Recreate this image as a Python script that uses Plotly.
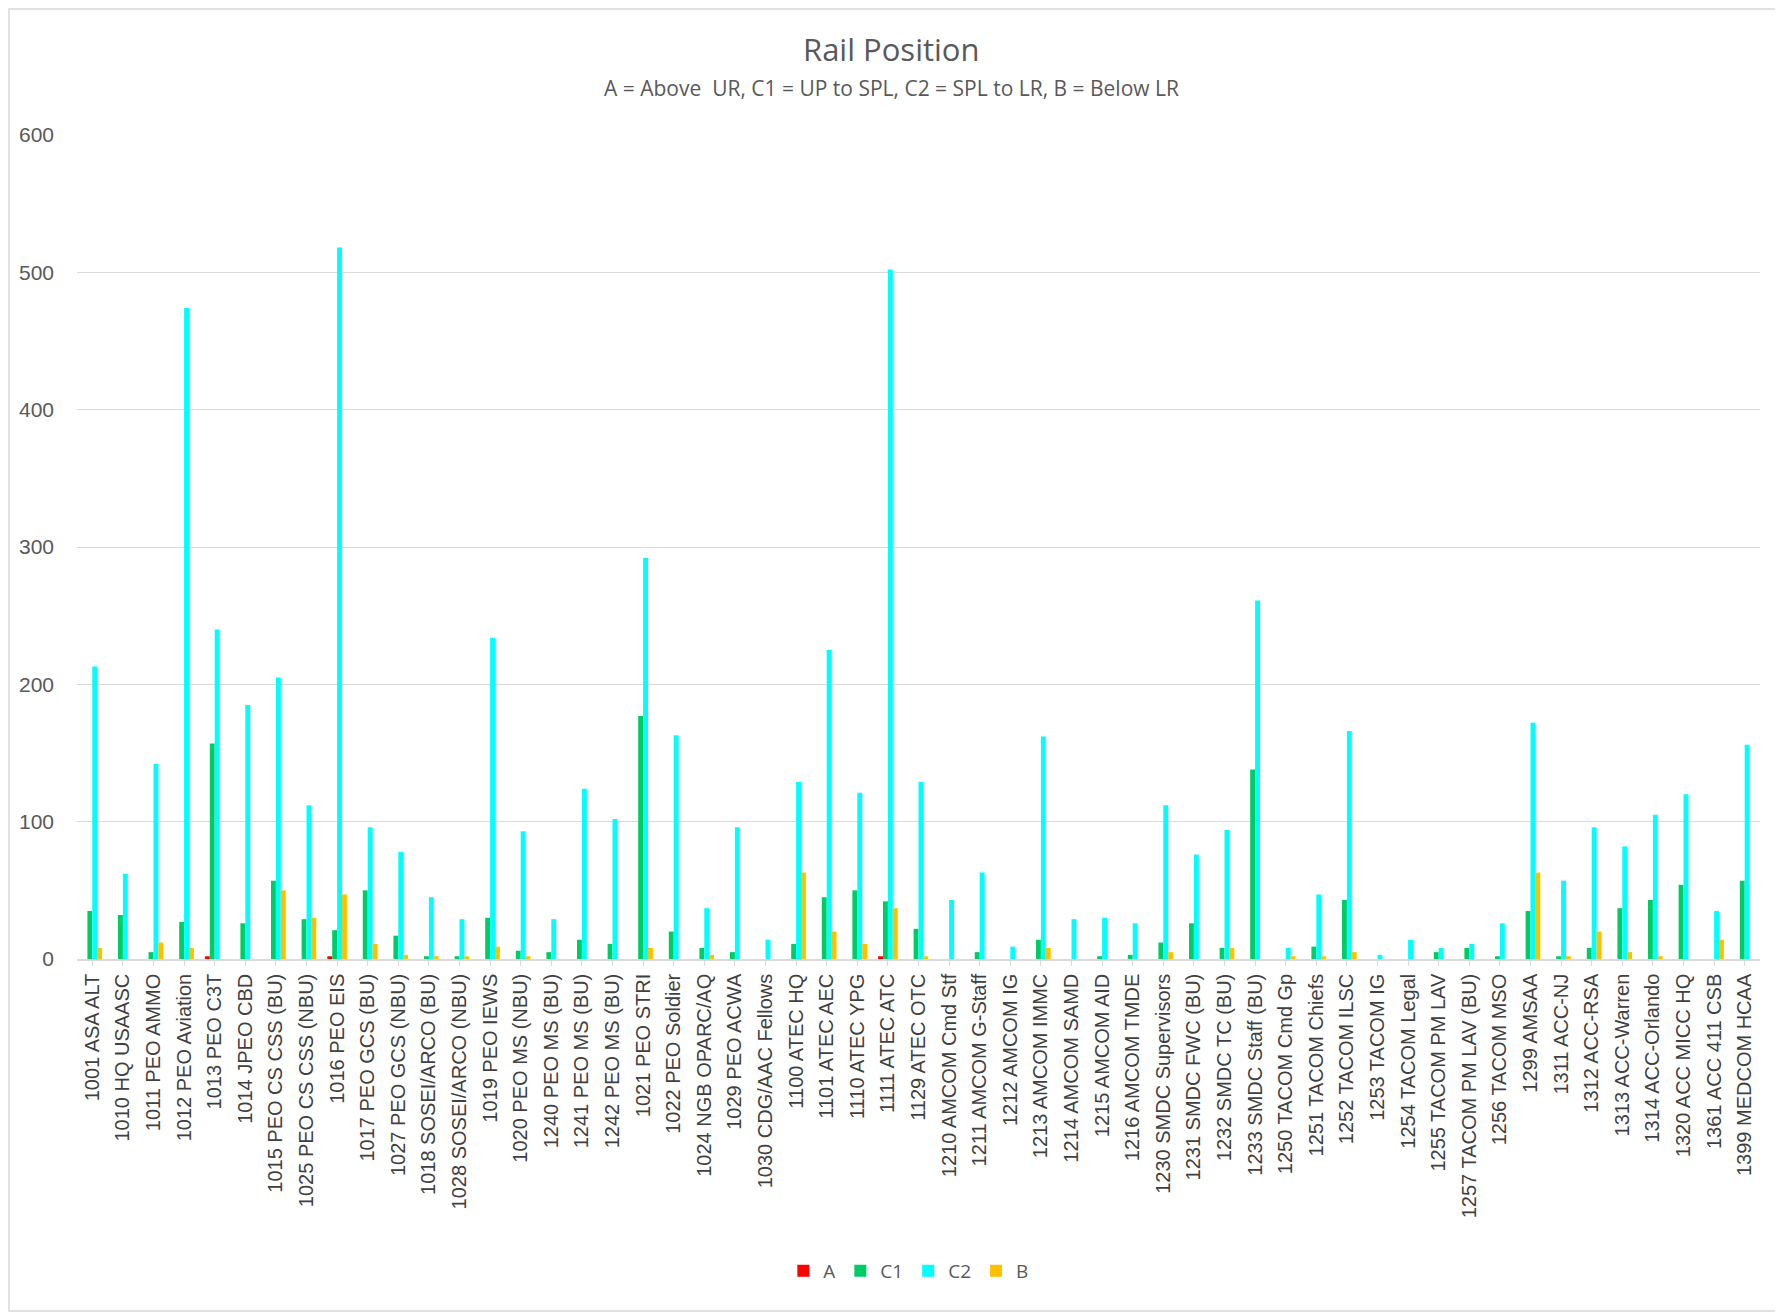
import plotly.graph_objects as go

categories = [
    "1001 ASA ALT", "1010 HQ USAASC", "1011 PEO AMMO", "1012 PEO Aviation", "1013 PEO C3T",
    "1014 JPEO CBD", "1015 PEO CS CSS (BU)", "1025 PEO CS CSS (NBU)", "1016 PEO EIS",
    "1017 PEO GCS (BU)", "1027 PEO GCS (NBU)", "1018 SOSEI/ARCO (BU)", "1028 SOSEI/ARCO (NBU)",
    "1019 PEO IEWS", "1020 PEO MS (NBU)", "1240 PEO MS (BU)", "1241 PEO MS (BU)",
    "1242 PEO MS (BU)", "1021 PEO STRI", "1022 PEO Soldier", "1024 NGB OPARC/AQ",
    "1029 PEO ACWA", "1030 CDG/AAC Fellows", "1100 ATEC HQ", "1101 ATEC AEC", "1110 ATEC YPG",
    "1111 ATEC ATC", "1129 ATEC OTC", "1210 AMCOM Cmd Stf", "1211 AMCOM G-Staff",
    "1212 AMCOM IG", "1213 AMCOM IMMC", "1214 AMCOM SAMD", "1215 AMCOM AID",
    "1216 AMCOM TMDE", "1230 SMDC Supervisors", "1231 SMDC FWC (BU)", "1232 SMDC TC (BU)",
    "1233 SMDC Staff (BU)", "1250 TACOM Cmd Gp", "1251 TACOM Chiefs", "1252 TACOM ILSC",
    "1253 TACOM IG", "1254 TACOM Legal", "1255 TACOM PM LAV", "1257 TACOM PM LAV (BU)",
    "1256 TACOM MSO", "1299 AMSAA", "1311 ACC-NJ", "1312 ACC-RSA", "1313 ACC-Warren",
    "1314 ACC-Orlando", "1320 ACC MICC HQ", "1361 ACC 411 CSB", "1399 MEDCOM HCAA",
]

A = [0, 0, 0, 0, 2, 0, 0, 0, 2, 0, 0, 0, 0, 0, 0, 0, 0, 0, 0, 0, 0, 0, 0, 0, 0, 0, 2, 0,
     0, 0, 0, 0, 0, 0, 0, 0, 0, 0, 0, 0, 0, 0, 0, 0, 0, 0, 0, 0, 0, 0, 0, 0, 0, 0, 0]
C1 = [35, 32, 5, 27, 157, 26, 57, 29, 21, 50, 17, 2, 2, 30, 6, 5, 14, 11, 177, 20, 8,
      5, 0, 11, 45, 50, 42, 22, 0, 5, 0, 14, 0, 2, 3, 12, 26, 8, 138, 0, 9, 43,
      0, 0, 5, 8, 2, 35, 2, 8, 37, 43, 54, 0, 57]
C2 = [213, 62, 142, 474, 240, 185, 205, 112, 518, 96, 78, 45, 29, 234, 93, 29, 124,
      102, 292, 163, 37, 96, 14, 129, 225, 121, 502, 129, 43, 63, 9, 162, 29, 30, 26,
      112, 76, 94, 261, 8, 47, 166, 3, 14, 8, 11, 26, 172, 57, 96, 82, 105, 120, 35, 156]
B = [8, 0, 12, 8, 0, 0, 50, 30, 47, 11, 3, 2, 2, 9, 2, 0, 0, 0, 8, 0, 3, 0, 0, 63, 20,
     11, 37, 2, 0, 0, 0, 8, 0, 0, 0, 5, 0, 8, 0, 2, 2, 5, 0, 0, 0, 0, 0, 63, 2, 20,
     5, 2, 0, 14, 0]

series = [("A", A, "#FF0000"), ("C1", C1, "#00CC66"), ("C2", C2, "#00FFFF"), ("B", B, "#FFC000")]

fig = go.Figure()
for name, vals, color in series:
    fig.add_trace(go.Bar(x=categories, y=vals, name=name, marker=dict(color=color, line=dict(width=0))))

# page body has an 8px default margin; compensate so the plot lands where the reference has it
W, H = 1775, 1304
L, R, T, Bm = 69, 23, 127, 353
pw, ph = W - L - R, H - T - Bm
y0px = T + ph  # pixel row of value 0 inside the figure
xc = (W / 2 - 4 - L) / pw  # horizontal centre of the whole chart, in paper units

fig.update_layout(
    width=W, height=H,
    margin=dict(l=L, r=R, t=T, b=Bm),
    paper_bgcolor="white", plot_bgcolor="white",
    barmode="group", bargap=0.36, bargroupgap=0,
    font=dict(family="Liberation Sans, Arial, sans-serif", color="#595959"),
    showlegend=True,
    legend=dict(orientation="h", x=xc + 0.01, xanchor="center", y=-(1263 - y0px) / ph, yanchor="middle",
                font=dict(size=19, color="#595959", family="Open Sans, sans-serif"),
                itemwidth=30, traceorder="normal"),
    annotations=[
        dict(text="Rail Position", x=xc, xref="paper", y=(y0px - 41) / ph, yref="paper",
             showarrow=False, xanchor="center", yanchor="middle",
             font=dict(size=31, color="#595959", family="Open Sans, sans-serif")),
        dict(text="A = Above  UR, C1 = UP to SPL, C2 = SPL to LR, B = Below LR", x=xc, xref="paper",
             y=(y0px - 80) / ph, yref="paper", showarrow=False, xanchor="center", yanchor="middle",
             font=dict(size=21, color="#595959", family="Open Sans, sans-serif")),
    ],
    shapes=[dict(type="rect", xref="paper", yref="paper",
                 x0=-(L - 1) / pw, x1=1 + (R - 1) / pw, y0=-(Bm - 1) / ph, y1=1 + (T - 1) / ph,
                 line=dict(color="#D9D9D9", width=1.5), fillcolor="rgba(0,0,0,0)", layer="below")],
)
fig.update_yaxes(range=[0, 600], dtick=100, showgrid=True, gridcolor="#D9D9D9", gridwidth=1,
                 zeroline=False, showline=False, tickfont=dict(size=21, color="#595959"),
                 ticks="", ticklabelstandoff=22)
fig.update_xaxes(tickangle=-90, tickfont=dict(size=20, color="#404040"), showline=True,
                 linecolor="#D9D9D9", linewidth=1.5, ticks="outside", ticklen=5, tickcolor="#D9D9D9",
                 showgrid=False, automargin=False)

fig.write_html("out.html")
